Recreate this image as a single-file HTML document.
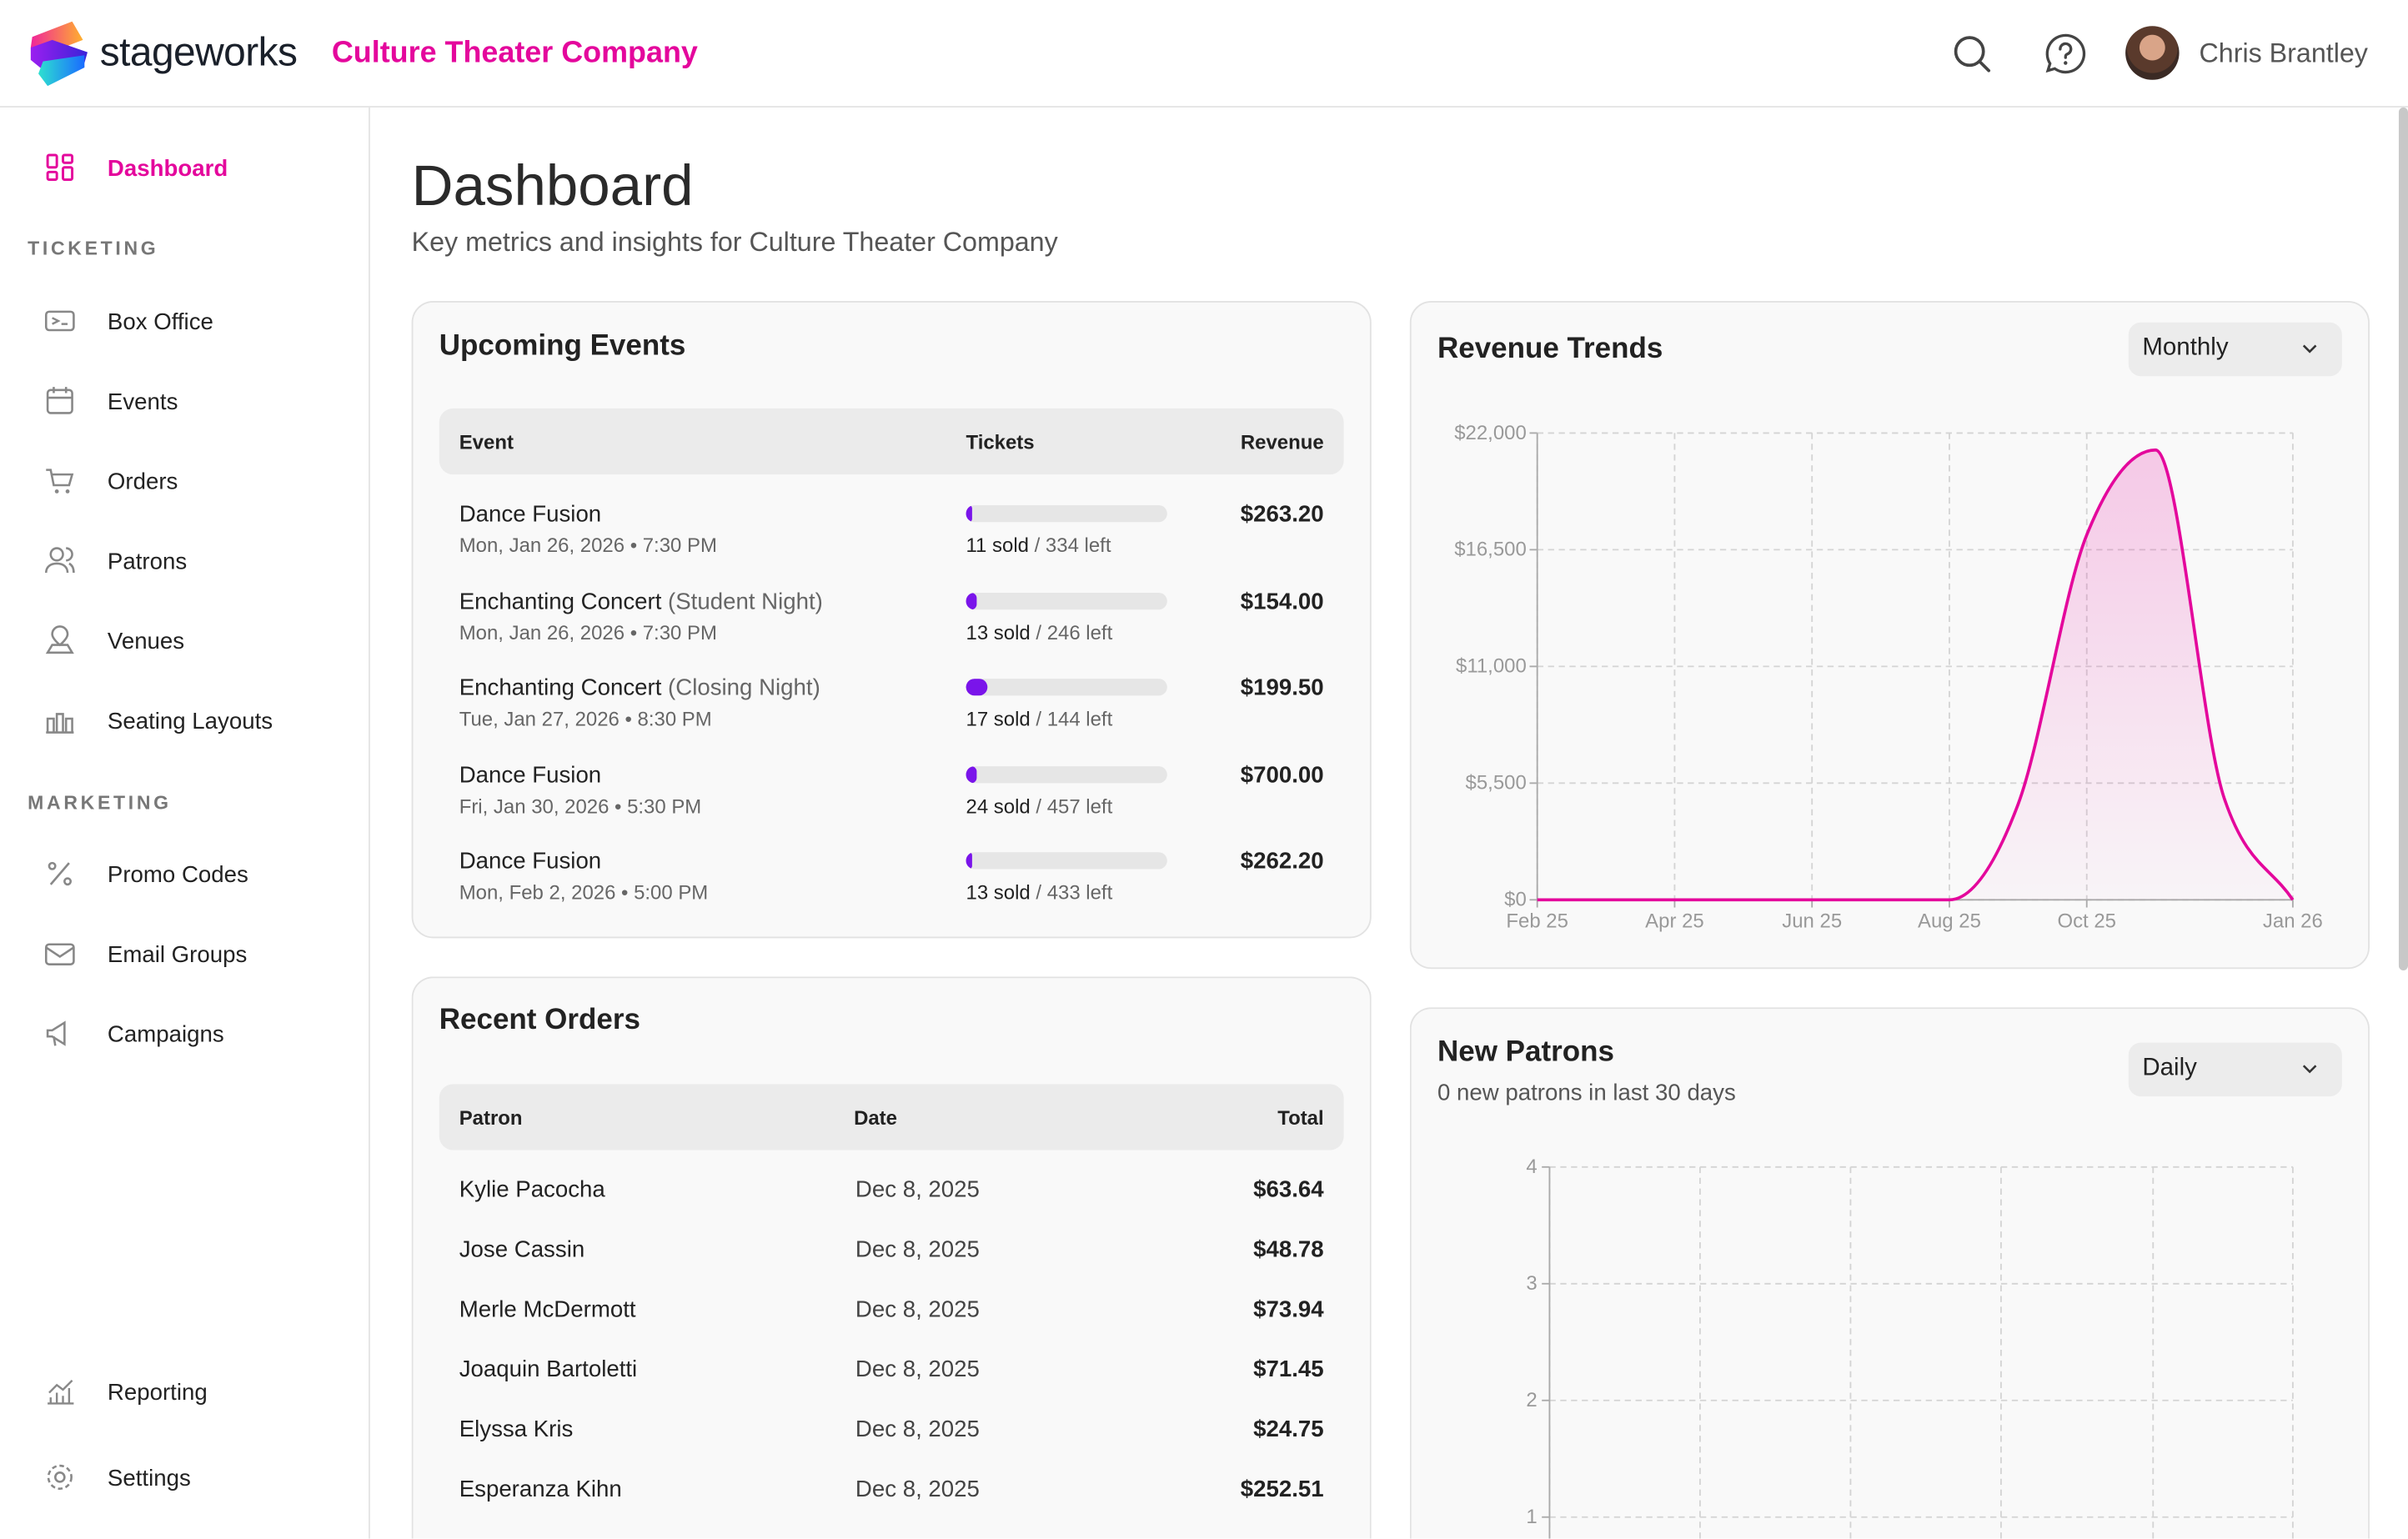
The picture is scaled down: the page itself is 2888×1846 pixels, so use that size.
<!DOCTYPE html>
<html><head><meta charset="utf-8">
<style>
*{box-sizing:border-box;margin:0;padding:0}
html,body{width:2888px;height:1846px;overflow:hidden;background:#fff}
#root{position:absolute;left:0;top:0;width:1568px;height:1002px;overflow:hidden;transform:scale(1.84184);transform-origin:0 0;font-family:"Liberation Sans",sans-serif;color:#222;background:#fff}
.abs{position:absolute}
.hdr{left:0;top:0;width:1568px;height:70px;border-bottom:1px solid #e4e4e4;background:#fff}
.side{left:0;top:70px;width:241px;height:932px;border-right:1px solid #e4e4e4}
.nav{position:absolute;left:70px;font-size:15px;color:#222;transform:translateY(-50%)}
.nicon{position:absolute;left:29px;width:20px;height:20px;transform:translateY(-50%)}
.sec{position:absolute;left:18px;font-size:12.5px;font-weight:bold;letter-spacing:2px;color:#777;transform:translateY(-50%)}
.card{position:absolute;background:#f9f9f9;border:1px solid #e2e2e2;border-radius:14px;overflow:hidden}
.open{border-bottom:none;border-bottom-left-radius:0;border-bottom-right-radius:0}
.ctitle{position:absolute;font-size:19px;font-weight:bold;color:#222}
.thead{position:absolute;left:17px;width:589px;height:43px;background:#ebebeb;border-radius:9px;font-size:13px;font-weight:bold;color:#222}
.thead span{position:absolute;top:50%;transform:translateY(-50%)}
.t{position:absolute;transform:translateY(-50%);white-space:nowrap}
.dd{position:absolute;background:#ececec;border-radius:8px;font-size:16px;color:#222}
</style></head><body>
<div id="root">
<div class="abs hdr">
  <svg class="abs" style="left:19px;top:14px" width="40" height="42" viewBox="0 0 40 42">
    <defs><linearGradient id="g1" x1="0" y1="0" x2="1" y2="0"><stop offset="0" stop-color="#f0259a"/><stop offset="1" stop-color="#ffb02e"/></linearGradient>
    <linearGradient id="g2" x1="0" y1="0" x2="1" y2="0"><stop offset="0" stop-color="#9b1ff0"/><stop offset="1" stop-color="#3a22d8"/></linearGradient>
    <linearGradient id="g3" x1="0" y1="0" x2="1" y2="0"><stop offset="0" stop-color="#2ee0d0"/><stop offset="1" stop-color="#1a6cff"/></linearGradient></defs>
    <polygon points="2,10 28,0 35,12 9,22 1,17" fill="url(#g1)"/>
    <polygon points="1,17 15,12 38,20 36,27 12,34 1,25" fill="url(#g2)"/>
    <polygon points="9,26 36,22 36,30 12,42 6,34" fill="url(#g3)"/>
  </svg>
  <div class="t" style="left:65px;top:34px;font-size:26px;color:#1a202a;letter-spacing:-0.3px">stageworks</div>
  <div class="t" style="left:216px;top:35px;font-size:19.5px;font-weight:bold;color:#e4079c">Culture Theater Company</div>
  <svg class="abs" style="left:1271px;top:22px" width="26" height="26" viewBox="0 0 26 26"><circle cx="11.5" cy="11.5" r="9" fill="none" stroke="#444" stroke-width="2"/><line x1="18" y1="18" x2="24" y2="24" stroke="#444" stroke-width="2" stroke-linecap="round"/></svg>
  <svg class="abs" style="left:1331px;top:21px" width="28" height="28" viewBox="0 0 28 28"><path d="M14 2a12 12 0 1 1-7 21.7L2.5 25l1.4-4.6A12 12 0 0 1 14 2z" fill="none" stroke="#444" stroke-width="1.8"/><path d="M10.5 11a3.5 3.5 0 1 1 4.5 3.3c-.7.3-1 .8-1 1.6v.6" fill="none" stroke="#444" stroke-width="1.8" stroke-linecap="round"/><circle cx="14" cy="20" r="1.2" fill="#444"/></svg>
  <div class="abs" style="left:1384px;top:17px;width:35px;height:35px;border-radius:50%;background:radial-gradient(circle at 50% 40%,#d9a488 0 30%,#5a3a2c 31% 60%,#3b2a24 61%)"></div>
  <div class="t" style="left:1432px;top:35px;font-size:17.5px;color:#555">Chris Brantley</div>
</div>
<div class="abs side"></div>
<svg class="nicon" style="top:109px" viewBox="0 0 20 20"><g fill="none" stroke="#e4079c" stroke-width="1.6"><rect x="2" y="2" width="6" height="8" rx="1"/><rect x="12" y="2" width="6" height="5" rx="1"/><rect x="2" y="13" width="6" height="5" rx="1"/><rect x="12" y="10" width="6" height="8" rx="1"/></g></svg>
<div class="nav" style="top:110px;color:#e4079c;font-weight:bold">Dashboard</div>
<div class="sec" style="top:162px">TICKETING</div>
<svg class="nicon" style="top:209px" viewBox="0 0 20 20"><rect x="1" y="4" width="18" height="12" rx="2" fill="none" stroke="#888" stroke-width="1.4"/><path d="M5 8l4 2-4 2M11 12h4" stroke="#888" fill="none" stroke-width="1.3"/></svg>
<div class="nav" style="top:210px">Box Office</div>
<svg class="nicon" style="top:261px" viewBox="0 0 20 20"><rect x="2" y="3" width="16" height="15" rx="2" fill="none" stroke="#888" stroke-width="1.4"/><path d="M2 8h16M6 1v4M14 1v4" stroke="#888" stroke-width="1.4"/></svg>
<div class="nav" style="top:262px">Events</div>
<svg class="nicon" style="top:313px" viewBox="0 0 20 20"><path d="M1 3h3l2 10h10l2-7H5" fill="none" stroke="#888" stroke-width="1.4"/><circle cx="8" cy="17" r="1.3" fill="#888"/><circle cx="15" cy="17" r="1.3" fill="#888"/></svg>
<div class="nav" style="top:314px">Orders</div>
<svg class="nicon" style="top:365px" viewBox="0 0 20 20"><circle cx="8" cy="6" r="4" fill="none" stroke="#888" stroke-width="1.4"/><path d="M1 18c0-4 3-6 7-6s7 2 7 6M14 2a4 4 0 0 1 0 8M16 12c2 1 3 3 3 6" fill="none" stroke="#888" stroke-width="1.4"/></svg>
<div class="nav" style="top:366px">Patrons</div>
<svg class="nicon" style="top:417px" viewBox="0 0 20 20"><path d="M10 13s-5-4-5-7a5 5 0 0 1 10 0c0 3-5 7-5 7z" fill="none" stroke="#888" stroke-width="1.4"/><path d="M2 18l3-5h10l3 5z" fill="none" stroke="#888" stroke-width="1.4"/></svg>
<div class="nav" style="top:418px">Venues</div>
<svg class="nicon" style="top:469px" viewBox="0 0 20 20"><path d="M2 18V9h4v9M8 18V6h4v12M14 18V9h4v9M1 18h18" fill="none" stroke="#888" stroke-width="1.4"/></svg>
<div class="nav" style="top:470px">Seating Layouts</div>
<div class="sec" style="top:523px">MARKETING</div>
<svg class="nicon" style="top:569px" viewBox="0 0 20 20"><path d="M4 17L16 3" stroke="#888" stroke-width="1.4"/><circle cx="5" cy="5" r="2" fill="none" stroke="#888" stroke-width="1.4"/><circle cx="15" cy="15" r="2" fill="none" stroke="#888" stroke-width="1.4"/></svg>
<div class="nav" style="top:570px">Promo Codes</div>
<svg class="nicon" style="top:621px" viewBox="0 0 20 20"><rect x="1" y="4" width="18" height="13" rx="2" fill="none" stroke="#888" stroke-width="1.4"/><path d="M1 6l9 6 9-6" fill="none" stroke="#888" stroke-width="1.4"/></svg>
<div class="nav" style="top:622px">Email Groups</div>
<svg class="nicon" style="top:673px" viewBox="0 0 20 20"><path d="M2 8v4h3l8 5V3L5 8zM6 12l1 6" fill="none" stroke="#888" stroke-width="1.4"/></svg>
<div class="nav" style="top:674px">Campaigns</div>
<svg class="nicon" style="top:906px" viewBox="0 0 20 20"><path d="M2 18h17M4 18v-4M8 18v-7M12 18v-5M16 18V8M3 11l5-5 4 3 6-6" fill="none" stroke="#888" stroke-width="1.3"/></svg>
<div class="nav" style="top:907px">Reporting</div>
<svg class="nicon" style="top:962px" viewBox="0 0 20 20"><circle cx="10" cy="10" r="3" fill="none" stroke="#888" stroke-width="1.4"/><circle cx="10" cy="10" r="7.5" fill="none" stroke="#888" stroke-width="1.4" stroke-dasharray="3 2"/></svg>
<div class="nav" style="top:963px">Settings</div>

<div class="t" style="left:268px;top:121px;font-size:37.5px;color:#2a2a2a">Dashboard</div>
<div class="t" style="left:268px;top:158px;font-size:17.5px;color:#555">Key metrics and insights for Culture Theater Company</div>

<div class="card" style="left:268px;top:196px;width:625px;height:415px">
  <div class="ctitle t" style="left:17px;top:29px">Upcoming Events</div>
  <div class="thead" style="top:69px"><span style="left:13px">Event</span><span style="left:343px">Tickets</span><span style="right:13px">Revenue</span></div>
  <div id="events"></div>
</div>

<div class="card open" style="left:268px;top:636px;width:625px;height:366px">
  <div class="ctitle t" style="left:17px;top:28px">Recent Orders</div>
  <div class="thead" style="top:69px"><span style="left:13px">Patron</span><span style="left:270px">Date</span><span style="right:13px">Total</span></div>
  <div id="orders"></div>
</div>

<div class="card" style="left:918px;top:196px;width:625px;height:435px">
  <div class="ctitle t" style="left:17px;top:31px">Revenue Trends</div>
  <div class="dd" style="left:467px;top:13px;width:139px;height:35px"><span class="t" style="left:9px;top:17px">Monthly</span><svg class="abs" style="left:112px;top:13px" width="12" height="8" viewBox="0 0 12 8"><path d="M2 2l4 4 4-4" fill="none" stroke="#333" stroke-width="1.4"/></svg></div>
  <svg id="rev" class="abs" style="left:0;top:0" width="625" height="435"></svg>
</div>

<div class="card open" style="left:918px;top:656px;width:625px;height:346px">
  <div class="ctitle t" style="left:17px;top:29px">New Patrons</div>
  <div class="t" style="left:17px;top:55px;font-size:15px;color:#555">0 new patrons in last 30 days</div>
  <div class="dd" style="left:467px;top:22px;width:139px;height:35px"><span class="t" style="left:9px;top:17px">Daily</span><svg class="abs" style="left:112px;top:13px" width="12" height="8" viewBox="0 0 12 8"><path d="M2 2l4 4 4-4" fill="none" stroke="#333" stroke-width="1.4"/></svg></div>
  <svg id="pat" class="abs" style="left:0;top:0" width="625" height="346"></svg>
</div>

<div class="abs" style="left:1562px;top:70px;width:6px;height:562px;background:#c8c8c8;border-radius:3px"></div>
</div>
<script>
const eventNames=["Dance Fusion","Enchanting Concert","Enchanting Concert","Dance Fusion","Dance Fusion"];
const eventSubs=["","(Student Night)","(Closing Night)","",""];
const eventDates=["Mon, Jan 26, 2026 • 7:30 PM","Mon, Jan 26, 2026 • 7:30 PM","Tue, Jan 27, 2026 • 8:30 PM","Fri, Jan 30, 2026 • 5:30 PM","Mon, Feb 2, 2026 • 5:00 PM"];
const eventSold=[11,13,17,24,13];
const eventLeft=[334,246,144,457,433];
const eventRevenue=["$263.20","$154.00","$199.50","$700.00","$262.20"];
const orderPatrons=["Kylie Pacocha","Jose Cassin","Merle McDermott","Joaquin Bartoletti","Elyssa Kris","Esperanza Kihn"];
const orderDates=["Dec 8, 2025","Dec 8, 2025","Dec 8, 2025","Dec 8, 2025","Dec 8, 2025","Dec 8, 2025"];
const orderTotals=["$63.64","$48.78","$73.94","$71.45","$24.75","$252.51"];
const revMonths=["Feb 25","Mar 25","Apr 25","May 25","Jun 25","Jul 25","Aug 25","Sep 25","Oct 25","Nov 25","Dec 25","Jan 26"];
const revValues=[0,0,0,0,0,0,0,4500,17200,21200,4800,0];
const revTicks=[0,5500,11000,16500,22000];
const revXLabels=["Feb 25","Apr 25","Jun 25","Aug 25","Oct 25","Jan 26"];
const patTicks=[1,2,3,4];
const patValues=[];

const ev=document.getElementById('events');
eventNames.forEach((n,i)=>{
  const y=138+i*56.5;
  const r=document.createElement('div');
  
  
  const pct=eventSold[i]/(eventSold[i]+eventLeft[i]);
  r.innerHTML=`<div class="t" style="left:30px;top:${y}px;font-size:15px;color:#222">${n}${eventSubs[i]?' <span style="color:#666">'+eventSubs[i]+'</span>':''}</div>
  <div class="t" style="left:30px;top:${y+20}px;font-size:13px;color:#666">${eventDates[i]}</div>
  <div class="abs" style="left:360px;top:${y-6}px;width:131px;height:11px;border-radius:6px;background:#e6e6e6;overflow:hidden"><div style="width:${Math.max(4,pct*131)}px;height:11px;background:#7a14ea;border-radius:6px"></div></div>
  <div class="t" style="left:360px;top:${y+20}px;font-size:13px;color:#666"><span style="color:#222">${eventSold[i]} sold</span> / ${eventLeft[i]} left</div>
  <div class="t" style="right:30px;top:${y}px;font-size:15px;font-weight:bold;color:#222">${eventRevenue[i]}</div>`;
  ev.appendChild(r);
});
const od=document.getElementById('orders');
orderPatrons.forEach((p,i)=>{
  const y=138+i*39;
  const r=document.createElement('div');
  
  
  r.innerHTML=`<div class="t" style="left:30px;top:${y}px;font-size:15px;color:#222">${p}</div>
  <div class="t" style="left:288px;top:${y}px;font-size:15px;color:#444">${orderDates[i]}</div>
  <div class="t" style="right:30px;top:${y}px;font-size:15px;font-weight:bold;color:#222">${orderTotals[i]}</div>`;
  od.appendChild(r);
});

const NS='http://www.w3.org/2000/svg';
function mk(svg,tag,attrs,txt){const e=document.createElementNS(NS,tag);for(const k in attrs)e.setAttribute(k,attrs[k]);if(txt!==undefined)e.textContent=txt;svg.appendChild(e);return e;}
const rev=document.getElementById('rev');
const X0=82,X1=574,Y0=389,Y1=85;
const xR=i=>X0+(X1-X0)*i/(revMonths.length-1);
const yR=v=>Y0-(Y0-Y1)*v/22000;
const defs=mk(rev,'defs',{});
const lg=mk(defs,'linearGradient',{id:'rg',x1:0,y1:0,x2:0,y2:1});
mk(lg,'stop',{offset:0,'stop-color':'#e4079c','stop-opacity':0.2});
mk(lg,'stop',{offset:1,'stop-color':'#e4079c','stop-opacity':0.02});
revTicks.forEach(t=>{
  const g=mk(rev,'line',{x1:X0,x2:X1,y1:yR(t),y2:yR(t),stroke:'#d4d4d4','stroke-dasharray':'4 3'});
  
  
  mk(rev,'line',{x1:X0-5,x2:X0,y1:yR(t),y2:yR(t),stroke:'#aaa'});
  const l=mk(rev,'text',{x:X0-7,y:yR(t)+4,'text-anchor':'end','font-size':13,fill:'#999','font-family':'Liberation Sans'},'$'+t.toLocaleString('en-US'));
  
  
});
revXLabels.forEach(lb=>{
  const i=revMonths.indexOf(lb);const x=xR(i);
  mk(rev,'line',{x1:x,x2:x,y1:Y1,y2:Y0,stroke:'#d4d4d4','stroke-dasharray':'4 3'});
  mk(rev,'line',{x1:x,x2:x,y1:Y0,y2:Y0+5,stroke:'#aaa'});
  const l=mk(rev,'text',{x:x,y:Y0+18,'text-anchor':'middle','font-size':13,fill:'#999','font-family':'Liberation Sans'},lb);
  
  
});
mk(rev,'line',{x1:X0,x2:X0,y1:Y1,y2:Y0,stroke:'#aaa'});
mk(rev,'line',{x1:X0,x2:X1,y1:Y0,y2:Y0,stroke:'#aaa'});
function monotone(xs,ys){
  const n=xs.length,d=[],m=[];
  for(let i=0;i<n-1;i++)d.push((ys[i+1]-ys[i])/(xs[i+1]-xs[i]));
  for(let i=0;i<n;i++){
    if(i===0)m.push(d[0]);else if(i===n-1)m.push(d[n-2]);
    else m.push(d[i-1]*d[i]<=0?0:(()=>{const h0=xs[i]-xs[i-1],h1=xs[i+1]-xs[i];const p=(d[i-1]*h1+d[i]*h0)/(h0+h1);return (Math.sign(d[i-1])+Math.sign(d[i]))*Math.min(Math.abs(d[i-1]),Math.abs(d[i]),0.5*Math.abs(p));})());
  }
  let s=`M${xs[0]},${ys[0]}`;
  for(let i=0;i<n-1;i++){const h=(xs[i+1]-xs[i])/3;s+=` C${xs[i]+h},${ys[i]+m[i]*h} ${xs[i+1]-h},${ys[i+1]-m[i+1]*h} ${xs[i+1]},${ys[i+1]}`;}
  return s;
}
const xs=revValues.map((v,i)=>xR(i)),ys=revValues.map(v=>yR(v));
const lp=monotone(xs,ys);
const area=mk(rev,'path',{d:lp+` L${xs[xs.length-1]},${Y0} L${xs[0]},${Y0} Z`,fill:'url(#rg)'});


const line=mk(rev,'path',{d:lp,fill:'none',stroke:'#e4079c','stroke-width':2});



const pat=document.getElementById('pat');
const PX0=90,PX1=574;
const yP=v=>331-(v-1)*76;
const pxTicks=[0,1,2,3,4,5];
const pxPos=i=>PX0+[0,98,196,294,393,484][i];
patTicks.forEach(t=>{
  mk(pat,'line',{x1:PX0,x2:PX1,y1:yP(t),y2:yP(t),stroke:'#d4d4d4','stroke-dasharray':'4 3'});
  mk(pat,'line',{x1:PX0-5,x2:PX0,y1:yP(t),y2:yP(t),stroke:'#aaa'});
  const l=mk(pat,'text',{x:PX0-8,y:yP(t)+4,'text-anchor':'end','font-size':13,fill:'#999','font-family':'Liberation Sans'},t);
  
  
});
pxTicks.forEach(i=>{mk(pat,'line',{x1:pxPos(i),x2:pxPos(i),y1:yP(4),y2:346,stroke:'#d4d4d4','stroke-dasharray':'4 3'});});
mk(pat,'line',{x1:PX0,x2:PX0,y1:yP(4),y2:346,stroke:'#aaa'});
</script>
</body></html>
